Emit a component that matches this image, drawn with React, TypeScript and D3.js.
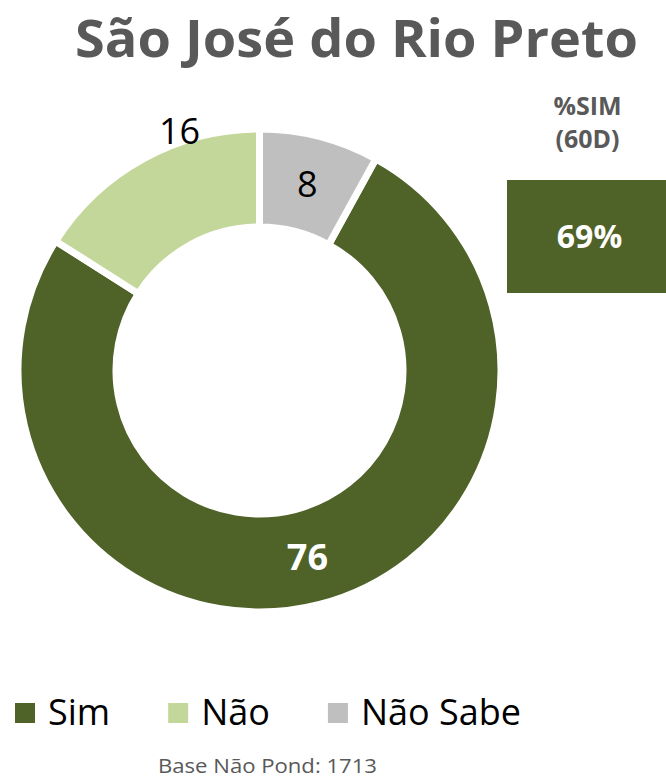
import React, { useRef, useEffect } from 'react';
import * as d3 from 'd3';

// answers, in Excel series order (clockwise from the first slice angle)
const categories = ['Sim', 'Não', 'Não Sabe'];
const values = [76, 16, 8];
const colors = ['#4F6228', '#C4D79B', '#BFBFBF'];
const labelColors = ['#FFFFFF', '#000000', '#000000'];
const labelWeights = ['bold', 'normal', 'normal'];

const title = 'São José do Rio Preto';
const kpiTitle = ['%SIM', '(60D)'];
const kpiValue = '69%';
const baseNote = 'Base Não Pond: 1713';

const width = 666;
const height = 781;
const font = '"Open Sans", "DejaVu Sans", sans-serif';

const App: React.FC = () => {
  const svgRef = useRef<SVGSVGElement | null>(null);

  useEffect(() => {
    const svg = d3.select(svgRef.current);
    svg.selectAll('*').remove();

    const cx = 259.5;
    const cy = 370.5;
    const gap = 7;
    const outer = 238 + gap / 2;
    const inner = 147 - gap / 2;

    // Não Sabe closes at 12 o'clock, so Sim starts after its share
    const total = d3.sum(values);
    const start = (values[2] / total) * Math.PI * 2;

    const pie = d3.pie<number>()
      .sort(null)
      .startAngle(start)
      .endAngle(start + Math.PI * 2);
    const arcs = pie(values);

    const arc = d3.arc<d3.PieArcDatum<number>>()
      .innerRadius(inner)
      .outerRadius(outer);

    const g = svg.append('g').attr('transform', `translate(${cx},${cy})`);

    g.selectAll('path.slice')
      .data(arcs)
      .enter()
      .append('path')
      .attr('class', 'slice')
      .attr('d', arc)
      .attr('fill', (d, i) => colors[i])
      .attr('stroke', '#fff')
      .attr('stroke-width', gap);

    // data labels: centred in the ring, the Não label was dragged outward
    const mid = (inner + outer) / 2;
    const labelRadiusScale = [1, 1.31, 1];
    const labelAngleShift = [0, 0.18, 0];

    g.selectAll('text.label')
      .data(arcs)
      .enter()
      .append('text')
      .attr('class', 'label')
      .attr('transform', (d, i) => {
        const a = (d.startAngle + d.endAngle) / 2 + labelAngleShift[i];
        const r = mid * labelRadiusScale[i];
        return `translate(${Math.sin(a) * r},${-Math.cos(a) * r})`;
      })
      .attr('text-anchor', 'middle')
      .attr('dy', '0.36em')
      .attr('font-family', font)
      .attr('font-size', 36)
      .attr('font-weight', (d, i) => labelWeights[i])
      .attr('fill', (d, i) => labelColors[i])
      .text(d => String(d.data));

    // title
    svg.append('text')
      .attr('x', 75)
      .attr('y', 57)
      .attr('font-family', font)
      .attr('font-size', 52)
      .attr('font-weight', 'bold')
      .attr('fill', '#595959')
      .attr('textLength', 563)
      .attr('lengthAdjust', 'spacingAndGlyphs')
      .text(title);

    // KPI box
    const boxX = 507;
    const boxMid = boxX + (width - boxX) / 2;
    kpiTitle.forEach((t, i) => {
      svg.append('text')
        .attr('x', boxMid + 1)
        .attr('y', 115 + i * 33)
        .attr('text-anchor', 'middle')
        .attr('font-family', font)
        .attr('font-size', 25)
        .attr('font-weight', 'bold')
        .attr('fill', '#595959')
        .text(t);
    });
    svg.append('rect')
      .attr('x', boxX)
      .attr('y', 180)
      .attr('width', width - boxX)
      .attr('height', 113)
      .attr('fill', colors[0]);
    svg.append('text')
      .attr('x', boxMid + 3)
      .attr('y', 248)
      .attr('text-anchor', 'middle')
      .attr('font-family', font)
      .attr('font-size', 32)
      .attr('font-weight', 'bold')
      .attr('fill', '#fff')
      .text(kpiValue);

    // legend
    const legend = svg.append('g').attr('transform', 'translate(15,703)');
    let lx = 0;
    categories.forEach((c, i) => {
      const item = legend.append('g').attr('transform', `translate(${lx},0)`);
      item.append('rect')
        .attr('width', 20)
        .attr('height', 20)
        .attr('fill', colors[i]);
      const t = item.append('text')
        .attr('x', 33)
        .attr('y', 22)
        .attr('font-family', font)
        .attr('font-size', 36)
        .attr('fill', '#000')
        .text(c);
      const tw = (t.node() as SVGTextElement).getComputedTextLength();
      lx += 33 + tw + 58;
    });

    svg.append('text')
      .attr('x', 158)
      .attr('y', 773)
      .attr('font-family', font)
      .attr('font-size', 20)
      .attr('fill', '#595959')
      .attr('textLength', 219)
      .attr('lengthAdjust', 'spacingAndGlyphs')
      .text(baseNote);
  }, []);

  return (
    <svg
      ref={svgRef}
      width={width}
      height={height}
      style={{ position: 'absolute', left: 0, top: 0, background: '#fff' }}
    />
  );
};

export default App;
